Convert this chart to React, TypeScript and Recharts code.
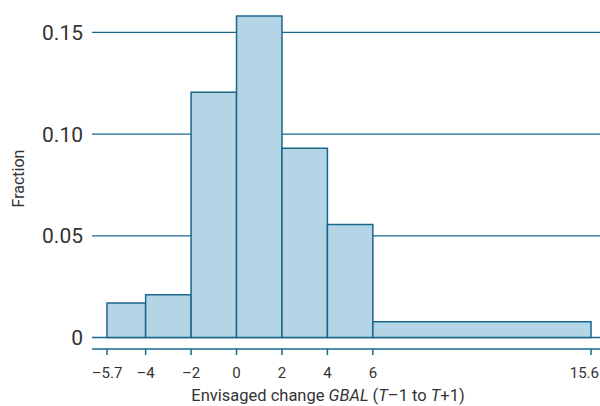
import React from 'react';
import { ComposedChart, XAxis, YAxis, CartesianGrid, ReferenceArea, Line } from 'recharts';

// histogram bins (variable widths)
const binStart = [-5.7, -4, -2, 0, 2, 4, 6];
const binEnd = [-4, -2, 0, 2, 4, 6, 15.6];
const fraction = [0.017, 0.021, 0.1205, 0.158, 0.093, 0.0555, 0.0078];

const xTicks = [-5.7, -4, -2, 0, 2, 4, 6, 15.6];
const xTickLabels = ['–5.7', '–4', '–2', '0', '2', '4', '6', '15.6'];
const yTicks = [0, 0.05, 0.1, 0.15];
const yTickLabels = ['0', '0.05', '0.10', '0.15'];

const BLUE = '#1a678c';
const FILL = '#b4d5e5';
const FONT = 'Roboto, "Liberation Sans", sans-serif';

const bins = binStart.map((lo, i) => ({ lo, hi: binEnd[i], frac: fraction[i] }));

const XTick = (props: any) => {
  const { x, y, payload } = props;
  const last = payload.value === xTicks[xTicks.length - 1];
  return (
    <text x={last ? 599 : x} y={y} dy="0.71em" textAnchor={last ? 'end' : 'middle'} fill="#333" fontSize={15} fontFamily={FONT}>
      {xTickLabels[xTicks.indexOf(payload.value)]}
    </text>
  );
};

const XTitle = (props: any) => {
  const vb = props.viewBox;
  return (
    <text x={vb.x + 236} y={vb.y + 52} textAnchor="middle" fill="#333" fontSize={16.5} fontFamily={FONT}>
      Envisaged change <tspan fontStyle="italic">GBAL</tspan> (<tspan fontStyle="italic">T</tspan>–1 to{' '}
      <tspan fontStyle="italic">T</tspan>+1)
    </text>
  );
};

const YTitle = (props: any) => {
  const vb = props.viewBox;
  const cx = 20;
  const cy = vb.y + vb.height / 2 - 2;
  return (
    <text x={cx} y={cy} transform={`rotate(-90 ${cx} ${cy})`} textAnchor="middle" dominantBaseline="middle"
      fill="#333" fontSize={16} fontFamily={FONT}>
      Fraction
    </text>
  );
};

export default function App() {
  return (
    <div style={{ position: 'absolute', left: 0, top: 0, background: '#fff' }}>
      <ComposedChart width={600} height={406} data={bins} margin={{ top: 12, right: 0, left: 0, bottom: 17 }}>
        <CartesianGrid vertical={false} horizontalValues={yTicks} stroke={BLUE} strokeWidth={1.3} />
        <XAxis
          type="number"
          dataKey="lo"
          domain={[-5.7, 15.6]}
          ticks={xTicks}
          interval={0}
          padding={{ left: 15, right: 9 }}
          height={40}
          stroke={BLUE}
          strokeWidth={1.5}
          tickSize={6}
          tickMargin={12}
          tick={<XTick />}
          label={<XTitle />}
        />
        <YAxis
          type="number"
          domain={[0, 0.16]}
          ticks={yTicks}
          tickFormatter={(v: number) => yTickLabels[yTicks.indexOf(v)]}
          width={92}
          padding={{ bottom: 11.5 }}
          axisLine={false}
          tickLine={false}
          tickSize={0}
          tickMargin={9}
          tick={{ fill: '#333', fontSize: 21, fontFamily: FONT }}
          label={<YTitle />}
        />
        <Line dataKey="frac" stroke="none" dot={false} activeDot={false} isAnimationActive={false} />
        {bins.map((b, i) => (
          <ReferenceArea
            key={i}
            x1={b.lo}
            x2={b.hi}
            y1={0}
            y2={b.frac}
            fill={FILL}
            fillOpacity={1}
            stroke={BLUE}
            strokeWidth={1.5}
            ifOverflow="visible"
          />
        ))}
      </ComposedChart>
    </div>
  );
}
